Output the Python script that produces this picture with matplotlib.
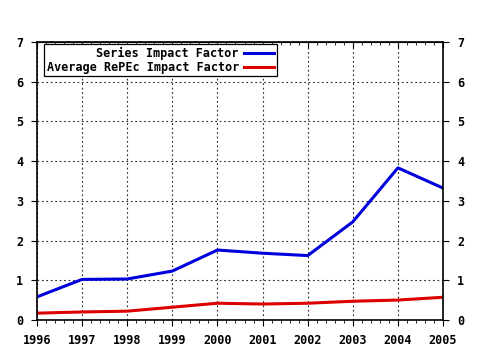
import numpy as np
import matplotlib
matplotlib.use("Agg")
import matplotlib.pyplot as plt
from matplotlib.ticker import MultipleLocator, AutoMinorLocator

years = [1996, 1997, 1998, 1999, 2000, 2001, 2002, 2003, 2004, 2005]
series_if = [0.58, 1.02, 1.03, 1.23, 1.76, 1.68, 1.62, 2.47, 3.83, 3.32]
average_if = [0.17, 0.20, 0.22, 0.32, 0.42, 0.40, 0.42, 0.47, 0.50, 0.57]

plt.rcParams['font.family'] = 'DejaVu Sans Mono'
plt.rcParams['font.weight'] = 'bold'
plt.rcParams['font.size'] = 8.5

fig = plt.figure(figsize=(4.8, 3.5), dpi=100)
ax = fig.add_axes([0.077, 0.086, 0.846, 0.794])

ax.plot(years, series_if, color='#0000dd', lw=2.2, label='Series Impact Factor')
ax.plot(years, average_if, color='#dd0000', lw=2.2, label='Average RePEc Impact Factor')

ax.set_xlim(1996, 2005)
ax.set_ylim(0, 7)
ax.set_xticks(years)
ax.yaxis.set_major_locator(MultipleLocator(1))
ax.xaxis.set_minor_locator(AutoMinorLocator(5))
ax.grid(True, which='major', color='#222222', linestyle=(0, (1.5, 2.5)), lw=0.8)

ax.tick_params(axis='x', which='major', direction='out', length=4, pad=6)
ax.tick_params(axis='x', which='minor', direction='out', length=2)
ax.tick_params(axis='y', which='major', direction='out', length=4, right=True, labelright=True, pad=6)
for sp in ax.spines.values():
    sp.set_linewidth(1.2)

# top axis: minor ticks pointing into the plot
top = ax.secondary_xaxis('top')
top.set_xticks(years)
top.xaxis.set_minor_locator(AutoMinorLocator(5))
top.tick_params(which='major', direction='in', length=4, labeltop=False)
top.tick_params(which='minor', direction='in', length=2)

leg = ax.legend(loc='upper left', bbox_to_anchor=(0.012, 1.0), markerfirst=False, fancybox=False,
                framealpha=1, edgecolor='black', borderpad=0.2, labelspacing=0.1, handlelength=2.6,
                borderaxespad=0.2, handletextpad=0.4)
leg.get_frame().set_linewidth(0.9)

plt.savefig('out.png', dpi=100)
